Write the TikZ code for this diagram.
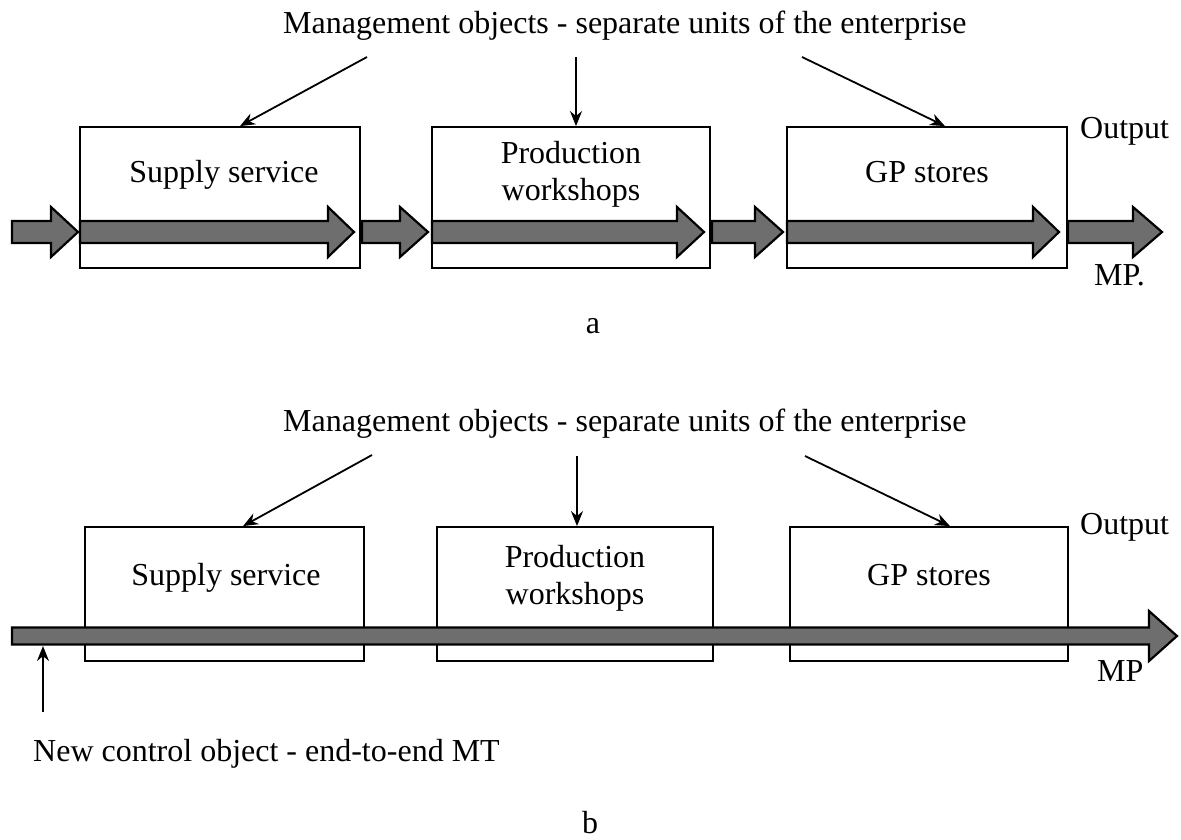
\documentclass[tikz,border=0pt]{standalone}
\usepackage{fontspec}
\setmainfont{Liberation Serif}
\usetikzlibrary{arrows.meta,calc}

% block arrow: x start, x tip, y centre, shaft half width, head start x, head half height
\newcommand{\blockarrow}[6]{%
  \draw[fatarrow] (#1,#3-#4) -- (#5,#3-#4) -- (#5,#3-#6) -- (#2,#3)
    -- (#5,#3+#6) -- (#5,#3+#4) -- (#1,#3+#4) -- cycle;}

\tikzset{
  unit/.style={draw=black, line width=1.8pt, fill=white, rectangle, inner sep=0pt},
  lbl/.style={inner sep=0pt, font=\fontsize{32}{38}\selectfont},
  fatarrow/.style={draw=black, line width=2.2pt, fill=black!57, line join=miter},
  pointer/.style={draw=black, line width=1.8pt, -{Stealth[length=15pt,width=12pt]}},
}

\begin{document}
\begin{tikzpicture}[x=1pt, y=-1pt]
\useasboundingbox (0,0) rectangle (1181,839);

% ---------- (a) units connected by separate flows ----------
\node[lbl, anchor=base west] (titleA) at (283,33) {Management objects - separate units of the enterprise};

\node[unit, minimum width=280pt, minimum height=141pt] (s1) at (220,197.5) {};
\node[unit, minimum width=278pt, minimum height=141pt] (p1) at (571,197.5) {};
\node[unit, minimum width=280pt, minimum height=141pt] (g1) at (927,197.5) {};

\node[lbl, anchor=base] (s1t) at (224,182) {Supply service};
\node[lbl, anchor=base] (p1t) at (571,163) {Production};
\node[lbl, anchor=base] (p1u) at (571,200) {workshops};
\node[lbl, anchor=base] (g1t) at (927,182) {GP stores};

\coordinate (a1) at (367,57);
\coordinate (a2) at (576,57);
\coordinate (a3) at (802,57);
\draw[pointer] (a1) -- ($(s1.north)+(20,0)$);
\draw[pointer] (a2) -- ($(p1.north)+(5,0)$);
\draw[pointer] (a3) -- ($(g1.north)+(18,0)$);

\blockarrow{12}{78}{232}{11}{51}{25}
\blockarrow{80}{354}{232}{11}{328}{25}
\blockarrow{362}{428}{232}{11}{400}{25}
\blockarrow{432}{704}{232}{11}{677}{25}
\blockarrow{712}{783}{232}{11}{755}{25}
\blockarrow{787}{1059}{232}{11}{1033}{25}
\blockarrow{1068}{1162}{232}{11}{1133}{25}

\node[lbl, anchor=base west] (outA) at (1080,138) {Output};
\node[lbl, anchor=base west] (mpA) at (1094,285) {MP.};
\node[lbl, anchor=base] (capA) at (593,333) {a};

% ---------- (b) one end-to-end flow through all units ----------
\node[lbl, anchor=base west] (titleB) at (283,431) {Management objects - separate units of the enterprise};

\node[unit, minimum width=279pt, minimum height=134pt] (s2) at (224.5,594) {};
\node[unit, minimum width=276pt, minimum height=134pt] (p2) at (575,594) {};
\node[unit, minimum width=278pt, minimum height=134pt] (g2) at (929,594) {};

\node[lbl, anchor=base] (s2t) at (226,585) {Supply service};
\node[lbl, anchor=base] (p2t) at (575,567) {Production};
\node[lbl, anchor=base] (p2u) at (575,604) {workshops};
\node[lbl, anchor=base] (g2t) at (929,585) {GP stores};

\coordinate (b1) at (372,455);
\coordinate (b2) at (577,456);
\coordinate (b3) at (805,456);
\draw[pointer] (b1) -- ($(s2.north)+(18.5,0)$);
\draw[pointer] (b2) -- ($(p2.north)+(2,0)$);
\draw[pointer] (b3) -- ($(g2.north)+(21,0)$);

\blockarrow{12}{1177}{636}{8.5}{1149}{25}

\coordinate (nc) at (43,712);
\coordinate (ncTip) at (43,646);
\draw[pointer] (nc) -- (ncTip);

\node[lbl, anchor=base west] (newObj) at (33,761) {New control object - end-to-end MT};
\node[lbl, anchor=base west] (outB) at (1080,534) {Output};
\node[lbl, anchor=base west] (mpB) at (1097,681) {MP};
\node[lbl, anchor=base] (capB) at (590,833) {b};
\end{tikzpicture}
\end{document}
